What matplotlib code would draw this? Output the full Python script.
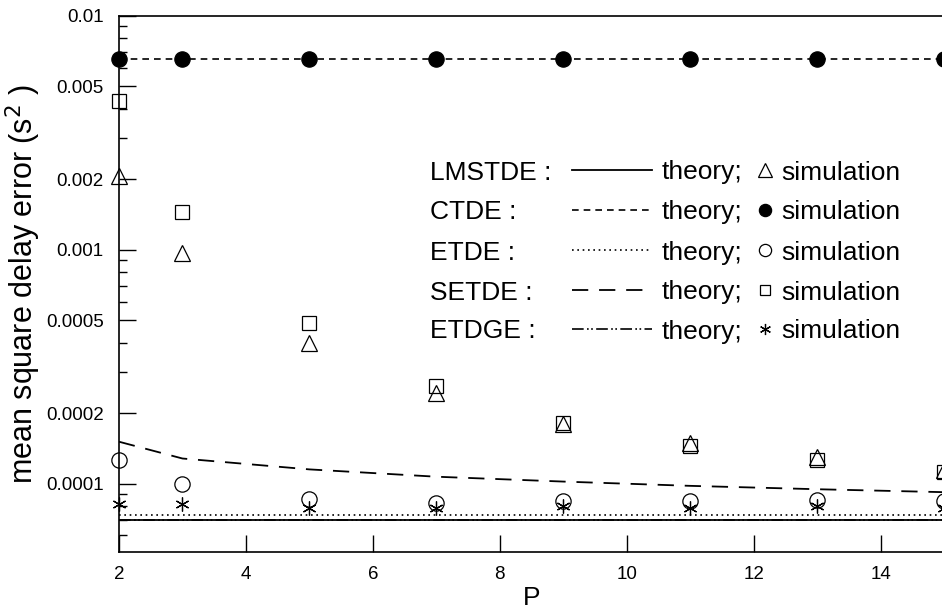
import matplotlib
matplotlib.use("Agg")
import matplotlib.pyplot as plt
from matplotlib.lines import Line2D
from matplotlib.ticker import LogLocator, FixedLocator, NullFormatter, FixedFormatter

plt.rcParams['font.family'] = ['Liberation Sans', 'DejaVu Sans']

# ---- data ----
P_sim = [2, 3, 5, 7, 9, 11, 13, 15]
lmstde_sim = [0.00206, 0.00097, 0.00040, 0.000244, 0.000180, 0.000149, 0.000130, 0.000114]
ctde_sim = [0.0065, 0.0065, 0.0065, 0.0065, 0.0065, 0.0065, 0.0065, 0.0065]
etde_sim = [0.000126, 0.000100, 0.000086, 0.0000830, 0.0000840, 0.0000840, 0.0000850, 0.0000840]
setde_sim = [0.0043, 0.00145, 0.000488, 0.000262, 0.000182, 0.000145, 0.000126, 0.000112]
etdge_sim = [0.0000817, 0.0000818, 0.0000787, 0.0000787, 0.0000800, 0.0000790, 0.0000800, 0.0000790]

P_th = [2, 3, 5, 7, 9, 11, 13, 15]
lmstde_th = [0.0000700] * 8
ctde_th = [0.0065] * 8
etde_th = [0.0000735] * 8
setde_th = [0.000151, 0.000128, 0.000115, 0.000107, 0.000102, 0.0000978, 0.0000946, 0.0000919]
etdge_th = [0.0000700] * 8

names = ["LMSTDE :", "CTDE :", "ETDE :", "SETDE :", "ETDGE :"]
yticks = [0.0001, 0.0002, 0.0005, 0.001, 0.002, 0.005, 0.01]
yticklabels = ["0.0001", "0.0002", "0.0005", "0.001", "0.002", "0.005", "0.01"]
xticks = [2, 4, 6, 8, 10, 12, 14]

W, H = 942, 616
fig = plt.figure(figsize=(W / 100, H / 100), dpi=100)
ax = fig.add_axes([119 / W, 1 - 552 / H, 1 - 119 / W + 2 / W, (552 - 15.7) / H])
ax.set_yscale('log')
ax.set_xlim(2, 15)
ax.set_ylim(5.1e-5, 0.01)

k = 'black'
# theory lines
styles = {
    'lmstde': dict(ls='-', lw=1.3),
    'ctde': dict(ls=(0, (4, 3)), lw=1.2),
    'etde': dict(ls=(0, (1, 2.2)), lw=1.2),
    'setde': dict(ls=(0, (9, 6)), lw=1.3),
    'etdge': dict(ls=(0, (7, 2, 1, 1.5, 1, 2)), lw=1.2),
}
ax.plot(P_th, etdge_th, color=k, **styles['etdge'])
ax.plot(P_th, lmstde_th, color=k, **styles['lmstde'])
ax.plot(P_th, ctde_th, color=k, **styles['ctde'])
ax.plot(P_th, etde_th, color=k, **styles['etde'])
ax.plot(P_th, setde_th, color=k, **styles['setde'])

# simulation markers
mk = {
    'lmstde': dict(marker='^', ms=12, mfc='none', mec=k, mew=0.9),
    'ctde': dict(marker='o', ms=11, mfc=k, mec=k, mew=0.9),
    'etde': dict(marker='o', ms=11, mfc='none', mec=k, mew=0.9),
    'setde': dict(marker='s', ms=9.5, mfc='none', mec=k, mew=0.9),
    'etdge': dict(marker=(6, 2, 0), ms=10, mfc='none', mec=k, mew=0.9),
}
ax.plot(P_sim, lmstde_sim, ls='none', clip_on=False, **mk['lmstde'])
ax.plot(P_sim, ctde_sim, ls='none', clip_on=False, **mk['ctde'])
ax.plot(P_sim, etde_sim, ls='none', clip_on=False, **mk['etde'])
ax.plot(P_sim, setde_sim, ls='none', clip_on=False, **mk['setde'])
ax.plot(P_sim, etdge_sim, ls='none', clip_on=False, **mk['etdge'])

# ticks
ax.yaxis.set_major_locator(FixedLocator(yticks))
ax.yaxis.set_major_formatter(FixedFormatter(yticklabels))
ax.yaxis.set_minor_locator(LogLocator(base=10, subs=[3, 4, 6, 7, 8, 9]))
ax.yaxis.set_minor_formatter(NullFormatter())
ax.set_xticks(xticks)
ax.set_xticklabels([str(v) for v in xticks])
ax.tick_params(axis='both', which='major', direction='in', length=12, width=1.0,
               labelsize=13.5, top=False, right=False)
ax.tick_params(axis='y', which='major', pad=11)
ax.tick_params(axis='x', which='major', pad=10)
ax.tick_params(axis='y', which='minor', direction='in', length=6, width=1.0, right=False)
ax.tick_params(axis='x', which='minor', bottom=False, top=False)
for s in ['left', 'bottom', 'top']:
    ax.spines[s].set_linewidth(1.2)
ax.spines['right'].set_visible(False)

ax.set_xlabel('P', fontsize=19, labelpad=2)
ax.set_ylabel('mean square delay error (s$^{2}$ )', fontsize=22, labelpad=2)

# legend (manual)
rows_y = [170, 210, 250, 290, 329]
keys = ['lmstde', 'ctde', 'etde', 'setde', 'etdge']
fs = 19
for name, key, py in zip(names, keys, rows_y):
    yf = 1 - py / H
    yb = 1 - (py + 9.5) / H
    fig.text(430 / W, yb, name, fontsize=fs, va='baseline', ha='left')
    fig.add_artist(Line2D([572 / W, 652 / W], [yf, yf], color=k, transform=fig.transFigure,
                          **styles[key]))
    fig.text(662 / W, yb, 'theory;', fontsize=fs, va='baseline', ha='left')
    m = dict(mk[key])
    m['ms'] = m['ms'] * 0.8
    fig.add_artist(Line2D([765 / W], [yf], ls='none', transform=fig.transFigure, **m))
    fig.text(781 / W, yb, 'simulation', fontsize=fs, va='baseline', ha='left')

fig.savefig('out.png', dpi=100)
